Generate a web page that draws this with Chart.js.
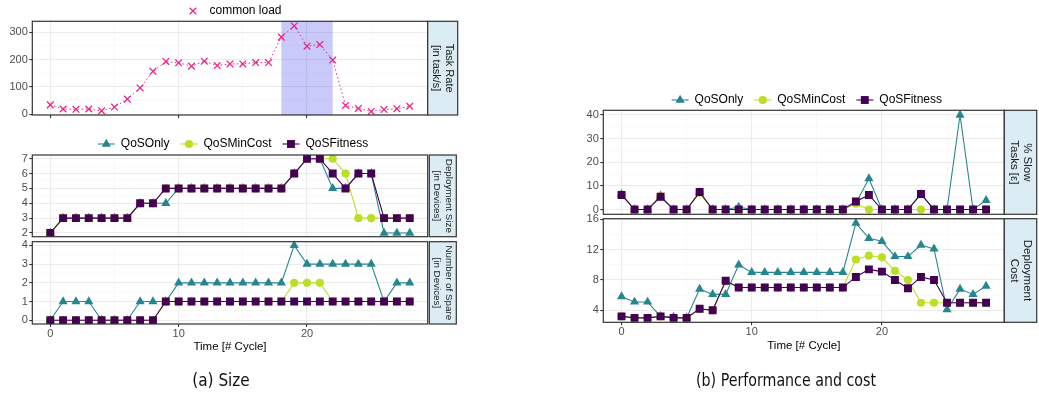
<!DOCTYPE html>
<html>
<head>
<meta charset="utf-8">
<script src="https://cdn.jsdelivr.net/npm/chart.js@4.4.1/dist/chart.umd.min.js"></script>
<style>
  body { margin:0; background:#fff; width:1039px; height:404px; overflow:hidden; position:relative; }
  canvas { position:absolute; top:0; }
  .cap { position:absolute; top:370px; font-family:"DejaVu Sans Condensed","DejaVu Sans",sans-serif; font-stretch:condensed; font-size:17px; line-height:21px; color:#111; transform:translateX(-50%); white-space:nowrap; }
</style>
</head>
<body>
<canvas id="load" width="470" height="404" style="left:0"></canvas>
<canvas id="size" width="470" height="404" style="left:0"></canvas>
<canvas id="spare" width="470" height="404" style="left:0"></canvas>
<canvas id="slow" width="479" height="404" style="left:560px"></canvas>
<canvas id="cost" width="479" height="404" style="left:560px"></canvas>
<div class="cap" style="left:221px">(a) Size</div>
<div class="cap" style="left:786px; transform:translateX(-50%) scaleX(0.93)">(b) Performance and cost</div>
<script>
var cycles = [0,1,2,3,4,5,6,7,8,9,10,11,12,13,14,15,16,17,18,19,20,21,22,23,24,25,26,27,28];
var load = [34,19,18,19,12,26,55,96,157,193,188,176,194,178,184,184,189,189,282,323,249,255,198,32,21,10,17,20,29];
var spike = [18, 22];

var sizeQoSOnly  = [2,3,3,3,3,3,3,4,4,4,5,5,5,5,5,5,5,5,5,6,7,7,5,5,6,6,2,2,2];
var sizeMinCost  = [2,3,3,3,3,3,3,4,4,5,5,5,5,5,5,5,5,5,5,6,7,7,7,6,3,3,3,3,3];
var sizeFitness  = [2,3,3,3,3,3,3,4,4,5,5,5,5,5,5,5,5,5,5,6,7,7,6,5,6,6,3,3,3];
var spareQoSOnly = [0,1,1,1,0,0,0,1,1,1,2,2,2,2,2,2,2,2,2,4,3,3,3,3,3,3,1,2,2];
var spareMinCost = [0,0,0,0,0,0,0,0,0,1,1,1,1,1,1,1,1,1,1,2,2,2,1,1,1,1,1,1,1];
var spareFitness = [0,0,0,0,0,0,0,0,0,1,1,1,1,1,1,1,1,1,1,1,1,1,1,1,1,1,1,1,1];
var slowQoSOnly  = [6.5,0,0,5.8,0,0,7.3,0,0,1.1,0,0,0,0,0,0,0,0,2.7,13.1,0,0,0,6.5,0,0,40,0,3.9];
var slowMinCost  = [6.2,0,0,5.6,0,0,7.1,0,0,0,0,0,0,0,0,0,0,0,2.5,0,0,0,0,0,0,0,0,0,0];
var slowFitness  = [6.2,0,0,5.4,0,0,7.4,0,0,0,0,0,0,0,0,0,0,0,3.4,6.2,0,0,0,6.6,0,0,0,0,0];
var costQoSOnly  = [5.8,5.1,5.1,3.2,3.1,3.0,6.8,6.1,6.1,10.0,9,9,9,9,9,9,9,9,15.5,13.5,13.1,11.1,11.1,12.6,12.1,4.1,6.8,6.1,7.2];
var costMinCost  = [3.2,3.0,3.0,3.2,3.0,3.0,4.2,4.0,7.8,7.0,7,7,7,7,7,7,7,7,10.7,11.2,11.0,9.2,8.0,5.0,5.0,5,5,5,5];
var costFitness  = [3.2,3.0,3.0,3.2,3.0,3.0,4.2,4.0,7.9,7.0,7,7,7,7,7,7,7,7,8.4,9.4,9.1,8.0,6.9,8.4,8.0,5.0,5,5,5];

var timeTicks  = [0,10,20];
var loadTicks  = [0,100,200,300];
var sizeTicks  = [2,3,4,5,6,7];
var spareTicks = [0,1,2,3,4];
var slowTicks  = [0,10,20,30,40];
var costTicks  = [4,8,12,16];

var FONT = '"Liberation Sans", Arial, sans-serif';
Chart.defaults.font.family = FONT;

// major ticks plus ggplot-style minor ticks halfway between them
function tickSet(major, min, max) {
  var step = major[1] - major[0];
  var ext = [major[0] - step].concat(major, [major[major.length - 1] + step]);
  var out = major.slice();
  for (var i = 0; i < ext.length - 1; i++) out.push((ext[i] + ext[i + 1]) / 2);
  return out.filter(v => v >= min && v <= max).sort((a, b) => a - b);
}
function isMajor(major, v) { return major.some(m => Math.abs(m - v) < 1e-9) }

function axis(major, min, max, extra) {
  var maj = c => c.tick && isMajor(major, c.tick.value);
  var a = {
    type: 'linear', min: min, max: max,
    afterBuildTicks: s => { s.ticks = tickSet(major, min, max).map(v => ({value: v})) },
    border: {display: false},
    grid: {
      color: c => maj(c) ? '#EBEBEB' : '#F5F5F5',
      lineWidth: c => maj(c) ? 1.1 : 0.6,
      tickColor: c => maj(c) ? '#333333' : 'rgba(0,0,0,0)',
      tickLength: 3, tickWidth: 1.1
    },
    ticks: {
      autoSkip: false, maxRotation: 0, color: '#4D4D4D', font: {size: 11, lineHeight: 1}, padding: 1.5,
      callback: v => isMajor(major, v) ? String(v) : ''
    }
  };
  return Object.assign(a, extra);
}

// panel frame and the blue facet strip on the right
var stripPlugin = {
  id: 'strip',
  afterDraw(chart, args, o) {
    var a = chart.chartArea, ctx = chart.ctx;
    ctx.save();
    ctx.strokeStyle = '#333333';
    ctx.lineWidth = 1.2;
    ctx.strokeRect(a.left, a.top, a.right - a.left, a.bottom - a.top);
    var x0 = a.right + o.gap;
    ctx.fillStyle = '#DBECF4';
    ctx.fillRect(x0, a.top, o.width, a.bottom - a.top);
    ctx.strokeRect(x0, a.top, o.width, a.bottom - a.top);
    ctx.translate(x0 + o.width / 2, (a.top + a.bottom) / 2);
    ctx.rotate(Math.PI / 2);
    ctx.fillStyle = '#1A1A1A';
    ctx.font = (o.size || 11.5) + 'px ' + FONT;
    ctx.textAlign = 'center';
    ctx.textBaseline = 'middle';
    var lh = o.lh || 13, n = o.lines.length;
    o.lines.forEach((t, i) => ctx.fillText(t, 0, (i - (n - 1) / 2) * lh));
    ctx.restore();
  }
};

// legend row built from the chart's own datasets
var keyRow = {
  id: 'keyRow',
  afterDraw(chart, args, o) {
    if (!o.display) return;
    var ctx = chart.ctx, sets = chart.data.datasets, a = chart.chartArea;
    var kw = 17, pad = o.pad || 6, gap = 11;
    ctx.save();
    ctx.font = '12px ' + FONT;
    ctx.textBaseline = 'middle';
    var widths = sets.map(d => ctx.measureText(d.label).width);
    var total = 0;
    sets.forEach((d, i) => total += kw + pad + widths[i] + (i ? gap : 0));
    var x = (a.left + a.right) / 2 + (o.shift || 0) - total / 2;
    sets.forEach((d, i) => {
      ctx.strokeStyle = d.borderColor;
      ctx.fillStyle = d.borderColor;
      ctx.setLineDash([]);
      if (o.lines) {
        ctx.lineWidth = d.borderWidth;
        ctx.beginPath(); ctx.moveTo(x, o.y); ctx.lineTo(x + kw, o.y); ctx.stroke();
      }
      ctx.lineWidth = d.pointBorderWidth || 1;
      Chart.helpers.drawPoint(ctx, {pointStyle: d.pointStyle, radius: d.pointRadius, borderWidth: d.pointBorderWidth, rotation: 0}, x + kw / 2, o.y);
      ctx.fillStyle = '#000';
      ctx.fillText(d.label, x + kw + pad, o.y);
      x += kw + pad + widths[i] + gap;
    });
    ctx.restore();
  }
};

// shaded cycle range behind the load curve
var shadePlugin = {
  id: 'shade',
  beforeDatasetsDraw(chart, args, o) {
    if (!o.range) return;
    var a = chart.chartArea, sx = chart.scales.x, ctx = chart.ctx;
    var x1 = sx.getPixelForValue(o.range[0]), x2 = sx.getPixelForValue(o.range[1]);
    ctx.save();
    ctx.fillStyle = 'rgba(20,20,235,0.23)';
    ctx.fillRect(x1, a.top, x2 - x1, a.bottom - a.top);
    ctx.restore();
  }
};

function points(vals) { return cycles.map((c, i) => ({x: c, y: vals[i]})) }

function series(label, vals, color, style, r, order) {
  return {
    label: label, data: points(vals), borderColor: color, backgroundColor: color,
    pointBackgroundColor: color, pointBorderColor: color, borderWidth: 1.1,
    pointStyle: style, pointRadius: r, pointBorderWidth: 0, order: order, tension: 0
  };
}
function trio(a, b, c) {
  return [
    series('QoSOnly', a, '#26868F', 'triangle', 5.3, 3),
    series('QoSMinCost', b, '#BBDF27', 'circle', 4.1, 2),
    series('QoSFitness', c, '#440154', 'rect', 5.6, 1)
  ];
}

function panel(id, cfg) {
  var H = 404;
  var xOpts = axis(timeTicks, -1.4, 29.4, {afterFit: s => { s.height = cfg.xH }});
  if (!cfg.xLabels) xOpts.ticks.display = false;
  if (!cfg.xTicks) xOpts.grid.drawTicks = false;
  if (cfg.xLabels) {
    xOpts.title = {display: true, text: 'Time [# Cycle]', color: '#000', font: {size: 11.5}, padding: {top: 0, bottom: cfg.titlePad}};
  }
  var yOpts = axis(cfg.yTicks, cfg.yMin, cfg.yMax, {afterFit: s => { s.width = cfg.yW }});
  return new Chart(document.getElementById(id), {
    type: 'line',
    data: {datasets: cfg.datasets},
    options: {
      devicePixelRatio: 1, responsive: false, animation: false,
      layout: {padding: {top: cfg.top, bottom: H - cfg.bottom - cfg.xH, left: 0, right: cfg.right}},
      scales: {x: xOpts, y: yOpts},
      plugins: {
        legend: {display: false}, tooltip: {enabled: false},
        strip: cfg.strip, keyRow: cfg.key || {display: false}, shade: cfg.shade || {}
      }
    },
    plugins: [shadePlugin, stripPlugin, keyRow]
  });
}

panel('load', {
  top: 21.3, bottom: 115, xH: 10, yW: 32.3, right: 42.3, xTicks: true,
  yTicks: loadTicks, yMin: -3, yMax: 340,
  datasets: [{
    label: 'common load', data: points(load), borderColor: '#E7298A', borderWidth: 1,
    borderDash: [1.5, 2.5], pointStyle: 'crossRot', pointRadius: 4.7, pointBorderWidth: 1.3,
    pointBorderColor: '#E7298A', tension: 0
  }],
  strip: {gap: 0, width: 30, size: 11, lh: 13, lines: ['Task Rate', '[in task/s]']},
  key: {display: true, y: 11, shift: 3, pad: 8, lines: false},
  shade: {range: spike}
});

panel('size', {
  top: 155, bottom: 236.7, xH: 0, yW: 32.3, right: 42.3,
  yTicks: sizeTicks, yMin: 1.75, yMax: 7.25,
  datasets: trio(sizeQoSOnly, sizeMinCost, sizeFitness),
  strip: {gap: 1.6, width: 27, size: 9.8, lh: 11.6, lines: ['Deployment Size', '[in Devices]']},
  key: {display: true, y: 144, shift: 3, lines: true}
});

panel('spare', {
  top: 241.7, bottom: 324, xH: 36, yW: 32.3, right: 42.3, xTicks: true, xLabels: true, titlePad: 6.4,
  yTicks: spareTicks, yMin: -0.2, yMax: 4.2,
  datasets: trio(spareQoSOnly, spareMinCost, spareFitness),
  strip: {gap: 1.6, width: 27, size: 9.8, lh: 11.6, lines: ['Number of Spare', '[in Devices]']}
});

panel('slow', {
  top: 110.3, bottom: 214.3, xH: 0, yW: 43.3, right: 34.7,
  yTicks: slowTicks, yMin: -2, yMax: 42,
  datasets: trio(slowQoSOnly, slowMinCost, slowFitness),
  strip: {gap: 0, width: 32.4, size: 11.5, lh: 13, lines: ['% Slow', 'Tasks [\u03b5]']},
  key: {display: true, y: 100, shift: 3, lines: true}
});

panel('cost', {
  top: 218.7, bottom: 322.3, xH: 36, yW: 43.3, right: 34.7, xTicks: true, xLabels: true, titlePad: 5.4,
  yTicks: costTicks, yMin: 2.42, yMax: 16.08,
  datasets: trio(costQoSOnly, costMinCost, costFitness),
  strip: {gap: 0, width: 32.4, size: 11.5, lh: 13, lines: ['Deployment', 'Cost']}
});
</script>
</body>
</html>
